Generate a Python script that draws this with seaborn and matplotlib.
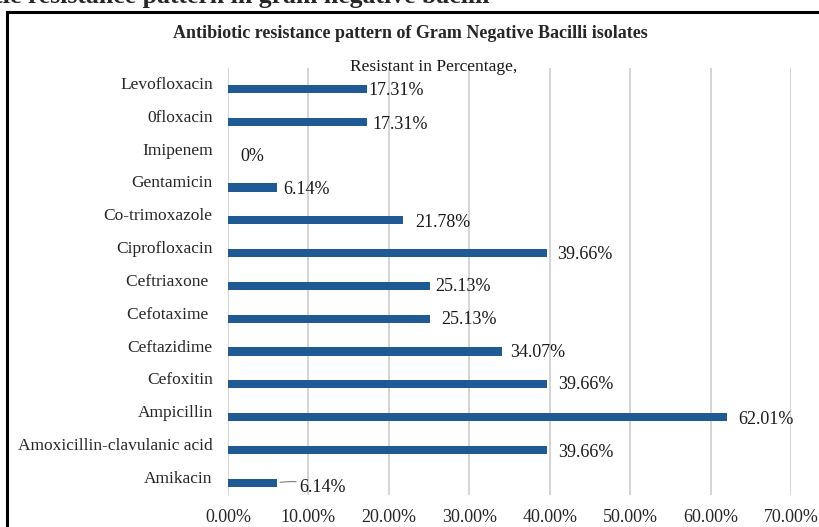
import matplotlib
matplotlib.use("Agg")
import matplotlib.pyplot as plt
from matplotlib.patches import Rectangle
from matplotlib.ticker import PercentFormatter
from matplotlib.transforms import ScaledTranslation
import seaborn as sns
import pandas as pd

# data
drugs = ["Levofloxacin", "0floxacin", "Imipenem", "Gentamicin", "Co-trimoxazole",
         "Ciprofloxacin", "Ceftriaxone ", "Cefotaxime ", "Ceftazidime", "Cefoxitin",
         "Ampicillin", "Amoxicillin-clavulanic acid", "Amikacin"]
resistant = [17.31, 17.31, 0, 6.14, 21.78, 39.66, 25.13, 25.13, 34.07, 39.66, 62.01, 39.66, 6.14]
value_labels = ["17.31%", "17.31%", "0%", "6.14%", "21.78%", "39.66%", "25.13%",
                "25.13%", "34.07%", "39.66%", "62.01%", "39.66%", "6.14%"]

# label nudges in pixels (dx right, dy down), as placed in the original
label_dx = [1, 5, 12, 6, 12, 10, 5, 11, 8, 11, 12, 11, 22]
label_dy = [1, 3, 2, 2, 2, 1, 1, 1, 1, 0, 2, 2, 5]

df = pd.DataFrame({"drug": drugs, "resistant": [v / 100 for v in resistant]})

sns.set_style("white")
plt.rcParams["font.family"] = ["Liberation Serif", "DejaVu Serif"]

fig = plt.figure(figsize=(8.2, 5.27), dpi=100)
W, H = 820, 527
ax = fig.add_axes([228 / W, 1 - 495 / H, (791 - 228) / W, (495 - 68) / H])

bar_color = "#1f5a94"
sns.barplot(data=df, x="resistant", y="drug", orient="h", color=bar_color,
            width=0.25, ax=ax, saturation=1, linewidth=0)

ax.set_xlim(0, 0.70)
ax.set_ylim(12.37, -0.64)
ax.set_xticks([i / 10 for i in range(8)])
ax.xaxis.set_major_formatter(PercentFormatter(1.0, decimals=2))
ax.grid(axis="x", color="#d4d4d4", linewidth=1.4)
ax.grid(axis="y", visible=False)
ax.set_axisbelow(True)
for s in ax.spines.values():
    s.set_visible(False)
ax.set_xlabel("")
ax.set_ylabel("")
ax.tick_params(axis="x", length=0, labelsize=13, pad=10)
ax.tick_params(axis="y", length=0, labelsize=12.5, pad=11)

# category names sit a little above their bars
shift = ScaledTranslation(0, 6 / 100, fig.dpi_scale_trans)
for lab in ax.get_yticklabels():
    lab.set_transform(lab.get_transform() + shift)

for i, (v, txt) in enumerate(zip(resistant, value_labels)):
    kw = {}
    if drugs[i] == "Amikacin":
        kw["arrowprops"] = dict(arrowstyle="-", color="#7f7f7f", lw=0.8,
                                shrinkA=0, shrinkB=2, connectionstyle="arc3,rad=0.15")
    ax.annotate(txt, xy=(v / 100, i), xytext=(label_dx[i], -label_dy[i]),
                textcoords="offset pixels", ha="left", va="center", fontsize=13,
                color="#1a1a1a", **kw)

fig.text(434 / W, 1 - 67 / H, "Resistant in Percentage,", ha="center", va="center",
         fontsize=12.5, color="#1a1a1a")
fig.text(410 / W, 1 - 33 / H, "Antibiotic resistance pattern of Gram Negative Bacilli isolates",
         ha="center", va="center", fontsize=13, fontweight="bold")

# heading of the page, cut off by the crop
fig.text(490 / W, 1 + 3 / H, "Antibiotic resistance pattern in gram negative bacilli",
         ha="right", va="center", fontsize=18.5, fontweight="bold")

# chart frame
fig.patches.append(Rectangle((7 / W, -0.05), 1.2, 1 - 12 / H + 0.05, transform=fig.transFigure,
                             fill=False, edgecolor="black", linewidth=2.2))

fig.savefig("out.png", dpi=100)
